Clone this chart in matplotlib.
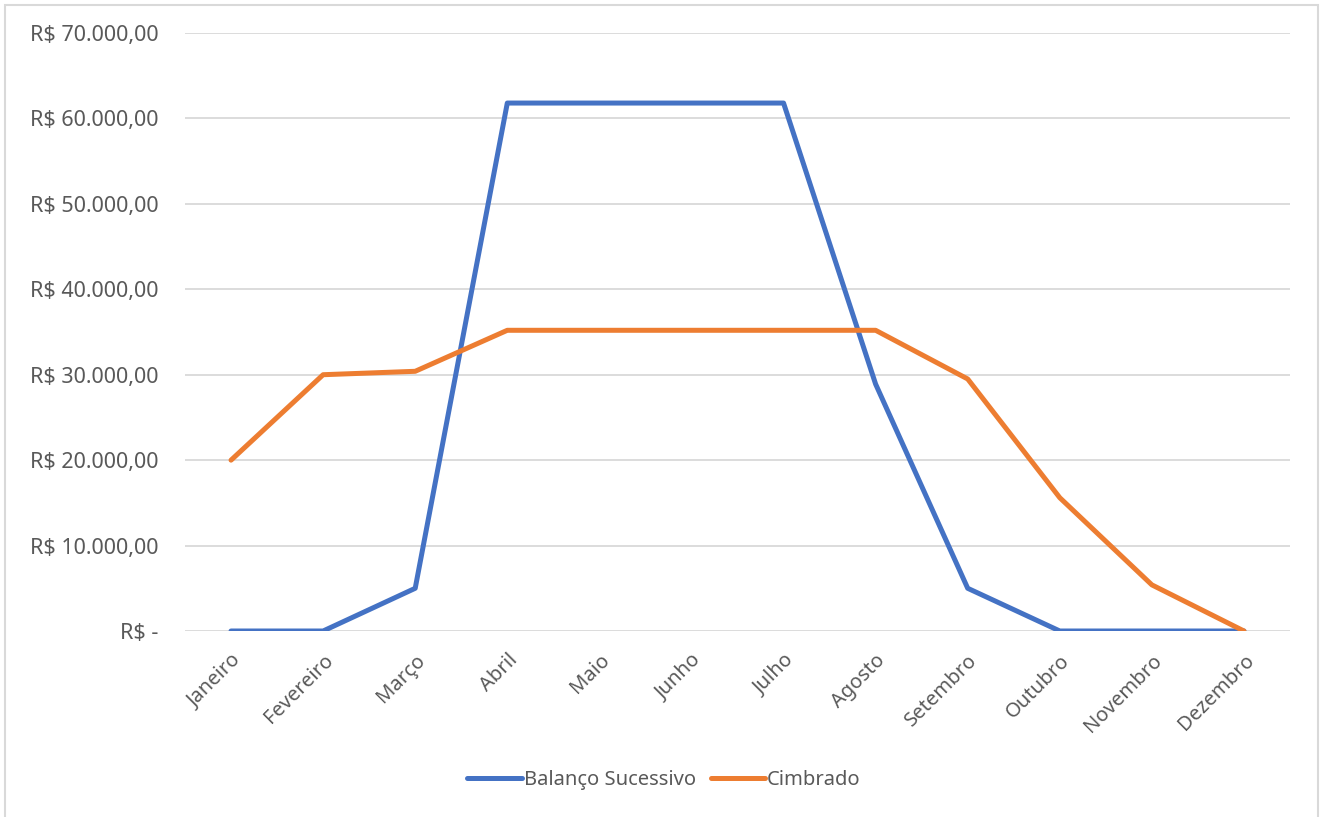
import matplotlib.pyplot as plt
from matplotlib.patches import Rectangle

plt.rcParams['font.family'] = ['Noto Sans', 'DejaVu Sans']

meses = ["Janeiro", "Fevereiro", "Março", "Abril", "Maio", "Junho", "Julho",
         "Agosto", "Setembro", "Outubro", "Novembro", "Dezembro"]
balanco = [0, 0, 5000, 61800, 61800, 61800, 61800, 28900, 5000, 0, 0, 0]
cimbrado = [20000, 30000, 30400, 35200, 35200, 35200, 35200, 35200, 29500, 15600, 5400, 0]
yticks = [0, 10000, 20000, 30000, 40000, 50000, 60000, 70000]


def fmt_brl(v):
    if v == 0:
        return "R$ -"
    s = f"{v:,.2f}".replace(",", "X").replace(".", ",").replace("X", ".")
    return "R$ " + s


fig = plt.figure(figsize=(13.28, 8.17), dpi=100)
ax = fig.add_axes([185 / 1328, 1 - 631 / 817, 1105 / 1328, 598 / 817])

x = range(len(meses))
ax.plot(x, balanco, color="#4472C4", lw=3.6, label="Balanço Sucessivo",
        solid_capstyle="round", solid_joinstyle="round", zorder=3)
ax.plot(x, cimbrado, color="#ED7D31", lw=3.6, label="Cimbrado",
        solid_capstyle="round", solid_joinstyle="round", zorder=3)

ax.set_xlim(-0.5, len(meses) - 0.5)
ax.set_ylim(0, 70000)
ax.set_yticks(yticks)
ax.set_yticklabels([fmt_brl(v) for v in yticks])
ax.set_xticks(list(x))
ax.set_xticklabels(meses, rotation=45, ha="right", rotation_mode="anchor")
ax.tick_params(axis="both", length=0, labelcolor="#595959")
ax.tick_params(axis="y", pad=19, labelsize=15.5)
ax.tick_params(axis="x", pad=14, labelsize=14.5)
ax.grid(axis="y", color="#D9D9D9", lw=1.3, zorder=0)
ax.set_axisbelow(True)
for sp in ax.spines.values():
    sp.set_visible(False)

leg = fig.legend(loc="center", bbox_to_anchor=(0.5, 1 - 780 / 817), ncol=2,
                 frameon=False, fontsize=14.5, handlelength=2.7, handletextpad=0.1,
                 columnspacing=0.75)
for t in leg.get_texts():
    t.set_color("#595959")

fig.patches.append(Rectangle((5 / 1328, -0.1), 1313 / 1328, 1.1 - 5 / 817,
                             transform=fig.transFigure, fill=False,
                             edgecolor="#D9D9D9", lw=1.5))

fig.savefig("out.png", dpi=100)
